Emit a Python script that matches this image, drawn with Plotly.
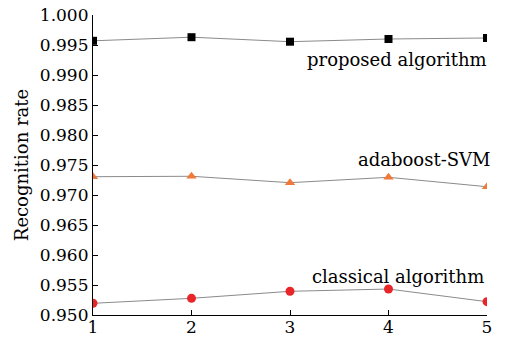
import plotly.graph_objects as go

x_vals = [1, 2, 3, 4, 5]
proposed = [0.9957, 0.9963, 0.99555, 0.9960, 0.99617]
adaboost = [0.97305, 0.97312, 0.97205, 0.97295, 0.97138]
classical = [0.95195, 0.95278, 0.95395, 0.95433, 0.95222]
y_ticks = [0.950, 0.955, 0.960, 0.965, 0.970, 0.975, 0.980, 0.985, 0.990, 0.995, 1.000]
y_tick_text = ["%.3f" % v for v in y_ticks]

FONT = "DejaVu Serif"
line = dict(color="#8a8a8a", width=1)

fig = go.Figure()
fig.add_trace(go.Scatter(x=x_vals, y=proposed, mode="lines+markers", line=line, cliponaxis=True,
                         marker=dict(symbol="square", size=8, color="black")))
fig.add_trace(go.Scatter(x=x_vals, y=adaboost, mode="lines+markers", line=line, cliponaxis=True,
                         marker=dict(symbol="triangle-up", size=9, color="#f07838")))
fig.add_trace(go.Scatter(x=x_vals, y=classical, mode="lines+markers", line=line, cliponaxis=True,
                         marker=dict(symbol="circle", size=9, color="#e8262a")))

fig.update_layout(
    width=508, height=340,
    margin=dict(l=93, r=21, t=15, b=25),
    paper_bgcolor="white", plot_bgcolor="white",
    showlegend=False,
    font=dict(family=FONT, size=17, color="black"),
    xaxis=dict(range=[1, 5], tickvals=x_vals, showline=True, linecolor="black", linewidth=1.2,
               ticks="inside", ticklen=5, tickcolor="black", showgrid=False, zeroline=False,
               automargin=False, ticklabelstandoff=-4, tickfont=dict(family=FONT, size=17)),
    yaxis=dict(range=[0.950, 1.000], tickvals=y_ticks, ticktext=y_tick_text, showline=True,
               linecolor="black", linewidth=1.2, ticks="inside", ticklen=5, tickcolor="black",
               showgrid=False, zeroline=False, automargin=False, tickfont=dict(family=FONT, size=17),
               title=dict(text="Recognition rate", font=dict(family=FONT, size=18), standoff=6)),
    annotations=[
        dict(text="proposed algorithm", xref="paper", yref="paper", x=1.005, y=0.851,
             xanchor="right", yanchor="middle", showarrow=False, font=dict(family=FONT, size=18)),
        dict(text="adaboost-SVM", xref="paper", yref="paper", x=1.015, y=0.517,
             xanchor="right", yanchor="middle", showarrow=False, font=dict(family=FONT, size=18)),
        dict(text="classical algorithm", xref="paper", yref="paper", x=0.997, y=0.127,
             xanchor="right", yanchor="middle", showarrow=False, font=dict(family=FONT, size=18)),
    ],
)

fig.write_html("out.html", config={"displayModeBar": False},
               post_script="document.body.style.margin='0';document.body.style.overflow='hidden';")
